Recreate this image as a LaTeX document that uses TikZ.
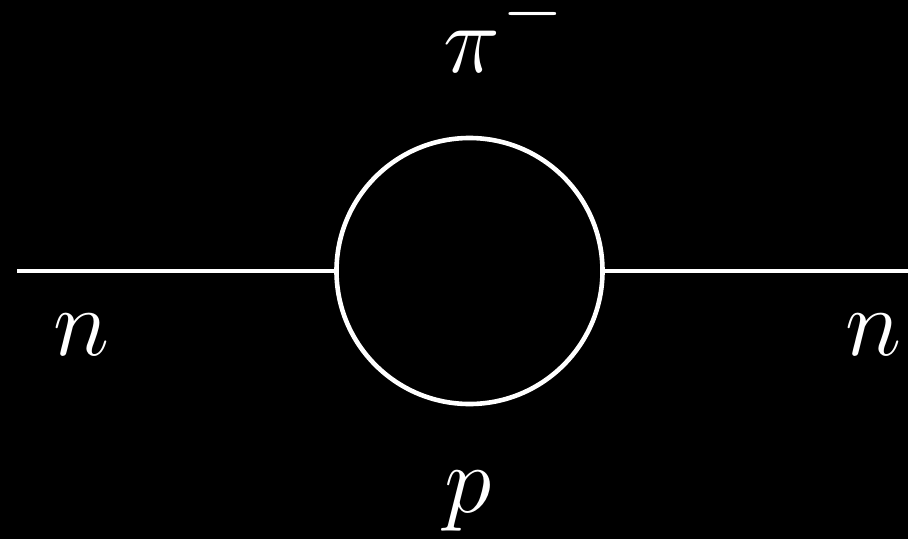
\RequirePackage{fix-cm}
\documentclass[tikz,border=0pt]{standalone}
\begin{document}
\begin{tikzpicture}[x=1pt,y=-1pt,
  lbl/.style={text=white,inner sep=0pt,font=\fontsize{96}{96}\selectfont,anchor=base west},
  wire/.style={draw=white,line width=4.6pt}]
\fill[black] (0,0) rectangle (908,539);
\useasboundingbox (0,0) rectangle (908,539);
\coordinate (L) at (17,271);
\coordinate (R) at (912,271);
\node[wire,circle,minimum size=266pt,inner sep=0pt] (C) at (469.5,271) {};
\draw[wire] (L) -- (C.west);
\draw[wire] (C.east) -- (R);
\node[lbl] (pi) at (443,72) {$\pi$};
\node[lbl,font=\fontsize{78}{78}\selectfont] (minus) at (502,33) {$-$};
\node[lbl] (n1) at (53,355) {$n$};
\node[lbl] (n2) at (845,355) {$n$};
\node[lbl] (p) at (444,512) {$p$};
\end{tikzpicture}
\end{document}
